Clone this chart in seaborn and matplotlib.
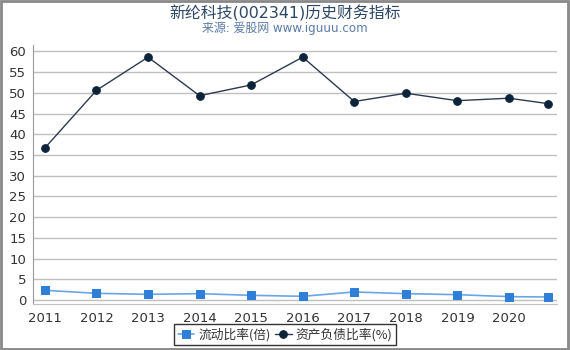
import matplotlib
matplotlib.use("Agg")
import matplotlib.pyplot as plt
import seaborn as sns
import pandas as pd
from matplotlib.patches import Rectangle

years = [2011, 2012, 2013, 2014, 2015, 2016, 2017, 2018, 2019, 2020, 2020.75]
current_ratio = [2.34, 1.61, 1.37, 1.53, 1.13, 0.89, 1.94, 1.53, 1.29, 0.81, 0.73]
debt_ratio = [36.7, 50.6, 58.6, 49.3, 51.9, 58.6, 47.9, 49.9, 48.1, 48.7, 47.4]
tick_years = [2011, 2012, 2013, 2014, 2015, 2016, 2017, 2018, 2019, 2020]
yticks = list(range(0, 61, 5))
series_names = ["流动比率(倍)", "资产负债比率(%)"]
title = "新纶科技(002341)历史财务指标"
subtitle = "来源: 爱股网 www.iguuu.com"

sns.set_style("white")
plt.rcParams["font.family"] = ["DejaVu Sans", "Noto Sans CJK SC"]

fig = plt.figure(figsize=(5.7, 3.5), dpi=100)
ax = fig.add_axes([0.058, 0.131, 0.919, 0.74])

df1 = pd.DataFrame({"x": years, "y": current_ratio})
df2 = pd.DataFrame({"x": years, "y": debt_ratio})
sns.lineplot(data=df1, x="x", y="y", ax=ax, color="#6aa6e6", lw=1.2,
             marker="s", markersize=5.2, markerfacecolor="#2f7ed8",
             markeredgecolor="#2f7ed8", label=series_names[0])
sns.lineplot(data=df2, x="x", y="y", ax=ax, color="#2b3a4f", lw=1.0,
             marker="o", markersize=5.5, markerfacecolor="#0d233a",
             markeredgecolor="#0d233a", label=series_names[1])

ax.set_xlim(2010.77, 2020.93)
ax.set_ylim(-1.0, 61.5)
ax.set_xticks(tick_years)
ax.set_xticklabels([str(t) for t in tick_years])
ax.set_yticks(yticks)
ax.set_xlabel("")
ax.set_ylabel("")
ax.grid(axis="y", color="#c0c0c0", lw=1)
ax.set_axisbelow(True)
for s in ["top", "right"]:
    ax.spines[s].set_visible(False)
ax.spines["left"].set_color("#999999")
ax.spines["bottom"].set_color("#c0c0c0")
ax.tick_params(axis="both", labelsize=9.5, colors="#333333", length=4,
               width=0.8, direction="out")
ax.tick_params(axis="x", color="#c0c0c0", pad=2)
ax.tick_params(axis="y", color="#999999", pad=2, length=3)

ax.get_legend().remove()
handles, labels = ax.get_legend_handles_labels()
leg = fig.legend(handles, labels, loc="upper center", bbox_to_anchor=(0.5, 0.074),
                 ncol=2, frameon=True, fancybox=False,
                 prop={"family": ["Noto Sans CJK SC", "DejaVu Sans"], "size": 9.2},
                 handlelength=1.3, handletextpad=0.3, columnspacing=0.35,
                 borderpad=0.3, borderaxespad=0)
leg.get_frame().set_edgecolor("#000000")
leg.get_frame().set_linewidth(1)
for t in leg.get_texts():
    t.set_color("#333333")

fig.text(0.5, 0.962, title, ha="center", va="center", fontsize=11.4, color="#2c4766")
fig.text(0.5, 0.918, subtitle, ha="center", va="center", fontsize=8.6, color="#5a7aa6")

fig.patches.append(Rectangle((0.001, 0.002), 0.996, 0.995, transform=fig.transFigure,
                             fill=False, edgecolor="#888888", lw=2))
fig.savefig("out.png", dpi=100, facecolor="white")
